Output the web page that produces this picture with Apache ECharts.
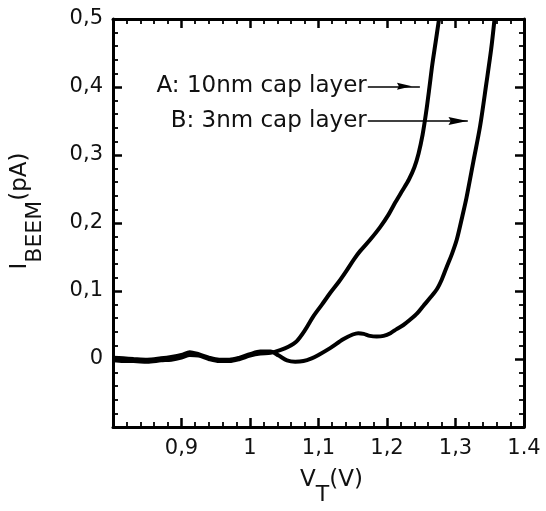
<!DOCTYPE html>
<html>

<head>
	<meta charset="UTF-8">
	<title>BEEM spectra</title>
	<script src="https://cdn.jsdelivr.net/npm/echarts@6/dist/echarts.min.js"></script>
</head>

<body style="margin:0">
	<div id="chart1" style="width: 546px;height: 511px;"></div>
</body>

</html>
<script type="text/javascript">
	// curve A: 10nm cap layer
	var voltsA = [0.800, 0.815, 0.830, 0.850, 0.870, 0.885, 0.900, 0.912, 0.925, 0.940, 0.955, 0.970, 0.985, 1.000, 1.015, 1.030,
		1.044, 1.056, 1.068, 1.080, 1.092, 1.105, 1.117, 1.130, 1.141, 1.152, 1.161, 1.175, 1.190, 1.202, 1.212, 1.222,
		1.232, 1.240, 1.246, 1.252, 1.257, 1.262, 1.266, 1.271, 1.276];
	var currentA = [-0.002, -0.003, -0.003, -0.004, -0.002, -0.001, 0.002, 0.006, 0.005, 0.000, -0.003, -0.003, 0.000, 0.005, 0.008, 0.009,
		0.013, 0.018, 0.026, 0.042, 0.062, 0.080, 0.097, 0.114, 0.130, 0.147, 0.159, 0.175, 0.194, 0.212, 0.230, 0.247,
		0.264, 0.282, 0.302, 0.330, 0.362, 0.400, 0.432, 0.466, 0.500];
	// curve B: 3nm cap layer
	var voltsB = [0.800, 0.815, 0.830, 0.850, 0.870, 0.885, 0.900, 0.912, 0.925, 0.940, 0.955, 0.970, 0.985, 1.000, 1.015, 1.030,
		1.042, 1.054, 1.066, 1.078, 1.090, 1.100, 1.117, 1.136, 1.150, 1.158, 1.166, 1.175, 1.185, 1.195, 1.205, 1.214,
		1.224, 1.234, 1.244, 1.253, 1.263, 1.273, 1.280, 1.287, 1.295, 1.302, 1.310, 1.316, 1.326, 1.336, 1.345, 1.352, 1.357];
	var currentB = [0.002, 0.001, 0.000, -0.001, 0.001, 0.003, 0.006, 0.010, 0.007, 0.002, -0.001, -0.001, 0.002, 0.007, 0.011, 0.011,
		0.005, -0.002, -0.004, -0.003, 0.001, 0.006, 0.016, 0.029, 0.036, 0.038, 0.037, 0.034, 0.033, 0.034, 0.038, 0.044,
		0.050, 0.058, 0.067, 0.078, 0.090, 0.103, 0.117, 0.135, 0.155, 0.176, 0.210, 0.237, 0.290, 0.343, 0.405, 0.455, 0.500];

	var xTickLabels = ['', '0,9', '1', '1,1', '1,2', '1,3', '1.4'];
	var yTickLabels = ['', '0', '0,1', '0,2', '0,3', '0,4', '0,5'];

	var labelA = 'A: 10nm cap layer';
	var labelB = 'B: 3nm cap layer';

	function pairs(xs, ys) {
		return xs.map(function (x, i) { return [x, ys[i]]; });
	}

	var font = 'DejaVu Sans';
	var arrowHead = 'path://M0,0L16,4L0,8L2,4Z';
	var tickStyle = { show: true, inside: true, length: 9, lineStyle: { color: '#000', width: 2.5 } };
	var minorStyle = { show: true, splitNumber: 5, length: 5, lineStyle: { color: '#000', width: 1.8 } };
	var lineAxis = { show: true, onZero: false, lineStyle: { color: '#000', width: 3 } };

	var chart1 = echarts.init(document.getElementById("chart1"));
	var option = {
		animation: false,
		grid: { left: 113, right: 22, top: 19, bottom: 79 },
		xAxis: [{
			type: 'value', min: 0.8, max: 1.4, interval: 0.1,
			axisLine: lineAxis, axisTick: tickStyle, minorTick: minorStyle,
			splitLine: { show: false },
			axisLabel: {
				margin: 11, color: '#111', fontFamily: font, fontSize: 21,
				formatter: function (v) { return xTickLabels[Math.round((v - 0.8) * 10)]; }
			},
			name: '{m|V}{s|T}{m|(V)}',
			nameLocation: 'middle', nameGap: 42,
			nameTextStyle: {
				padding: [0, 0, 0, 26],
				rich: {
					m: { fontFamily: font, fontSize: 23, color: '#111', lineHeight: 24, verticalAlign: 'top' },
					s: { fontFamily: font, fontSize: 22, color: '#111', lineHeight: 52 }
				}
			}
		}, {
			type: 'value', min: 0.8, max: 1.4, interval: 0.1, position: 'top',
			axisLine: lineAxis, axisTick: tickStyle, minorTick: minorStyle,
			splitLine: { show: false }, axisLabel: { show: false }
		}],
		yAxis: [{
			type: 'value', min: -0.1, max: 0.5, interval: 0.1,
			axisLine: lineAxis, axisTick: tickStyle, minorTick: minorStyle,
			splitLine: { show: false },
			axisLabel: {
				margin: 10, color: '#111', fontFamily: font, fontSize: 21,
				formatter: function (v) { return yTickLabels[Math.round((v + 0.1) * 10)]; }
			},
			name: '{m|I}{s|BEEM}{m|(pA)}',
			nameLocation: 'middle', nameGap: 52, nameRotate: 90,
			nameTextStyle: {
				padding: [0, 0, 0, 24],
				rich: {
					m: { fontFamily: font, fontSize: 23, color: '#111', lineHeight: 24, verticalAlign: 'top' },
					s: { fontFamily: font, fontSize: 22, color: '#111', lineHeight: 52 }
				}
			}
		}, {
			type: 'value', min: -0.1, max: 0.5, interval: 0.1, position: 'right',
			axisLine: lineAxis, axisTick: tickStyle, minorTick: minorStyle,
			splitLine: { show: false }, axisLabel: { show: false }
		}],
		series: [{
			name: 'A', type: 'line', showSymbol: false, smooth: 0.3,
			lineStyle: { color: '#000', width: 4 },
			data: pairs(voltsA, currentA),
			markLine: {
				silent: true, symbol: ['none', 'none'],
				lineStyle: { type: 'solid', color: '#000', width: 1.5 },
				label: { position: 'start', distance: 1, formatter: labelA, fontFamily: font, fontSize: 23, color: '#111', padding: [0, 0, 4, 0] },
				data: [[{ coord: [1.172, 0.401] }, { coord: [1.248, 0.401] }]]
			},
			markPoint: {
				silent: true, symbol: arrowHead, symbolSize: [15, 7],
				itemStyle: { color: '#000' }, label: { show: false },
				data: [{ coord: [1.2255, 0.401] }]
			}
		}, {
			name: 'B', type: 'line', showSymbol: false, smooth: 0.3,
			lineStyle: { color: '#000', width: 4 },
			data: pairs(voltsB, currentB),
			markLine: {
				silent: true, symbol: ['none', 'none'],
				lineStyle: { type: 'solid', color: '#000', width: 1.5 },
				label: { position: 'start', distance: 1, formatter: labelB, fontFamily: font, fontSize: 23, color: '#111', padding: [0, 0, 4, 0] },
				data: [[{ coord: [1.172, 0.350] }, { coord: [1.318, 0.350] }]]
			},
			markPoint: {
				silent: true, symbol: arrowHead, symbolSize: [19, 8],
				itemStyle: { color: '#000' }, label: { show: false },
				data: [{ coord: [1.3036, 0.350] }]
			}
		}]
	};
	chart1.setOption(option);
</script>
